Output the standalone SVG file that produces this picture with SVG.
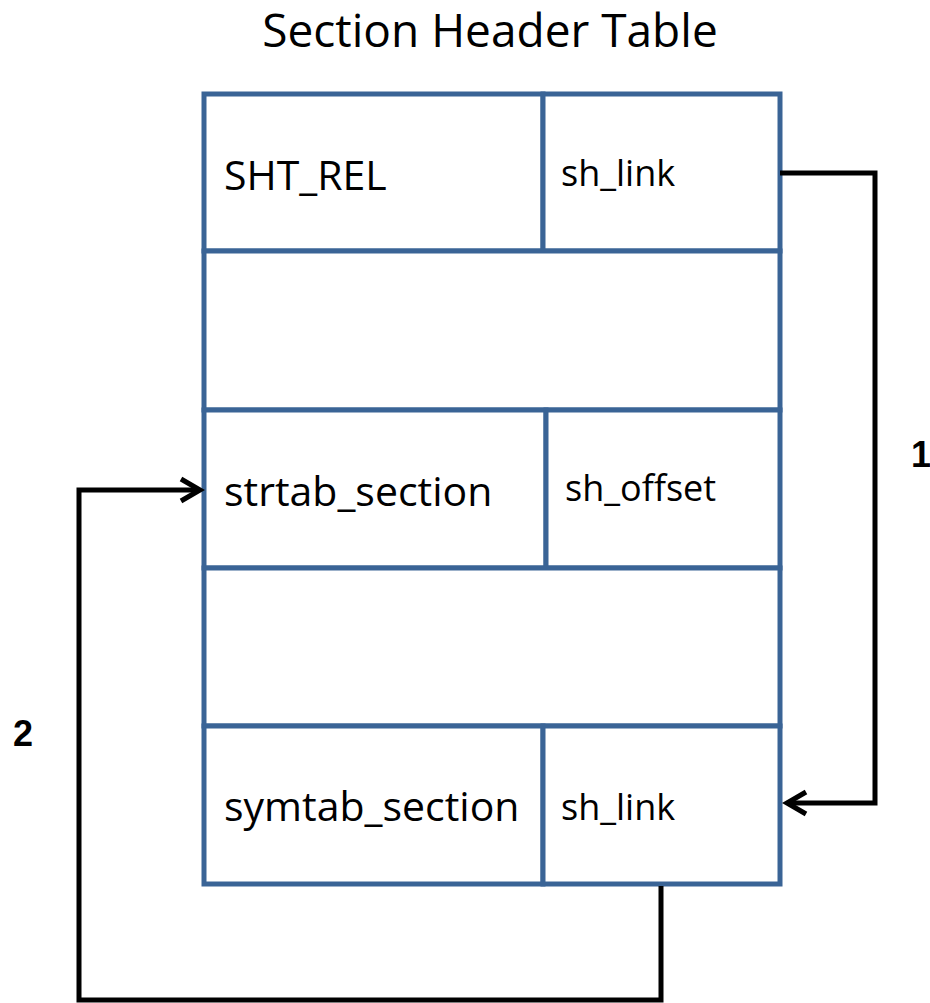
<svg xmlns="http://www.w3.org/2000/svg" width="930" height="1003" viewBox="0 0 930 1003">
<style>
.cell{fill:#fff;stroke:#3A6496;stroke-width:5}
.t{font-family:"Open Sans","Liberation Sans",sans-serif;fill:#000}
.big{font-size:41px}
.small{font-size:36px}
.conn{fill:none;stroke:#000;stroke-width:5;stroke-linejoin:miter}
.num{font-family:"Liberation Sans",sans-serif;font-weight:bold;font-size:36px}
</style>
<rect width="930" height="1003" fill="#fff"/>
<text class="t" x="490" y="47" font-size="46" text-anchor="middle">Section Header Table</text>
<g id="row-sht-rel">
<rect class="cell" x="204" y="94" width="339" height="157"/>
<rect class="cell" x="543" y="94" width="237" height="157"/>
<text class="t big" x="224" y="190">SHT_REL</text>
<text class="t small" x="561" y="186">sh_link</text>
</g>
<g id="row-empty-1">
<rect class="cell" x="204" y="251" width="576" height="159"/>
</g>
<g id="row-strtab">
<rect class="cell" x="204" y="410" width="342" height="158"/>
<rect class="cell" x="546" y="410" width="234" height="158"/>
<text class="t big" x="224" y="506">strtab_section</text>
<text class="t small" x="565" y="501">sh_offset</text>
</g>
<g id="row-empty-2">
<rect class="cell" x="204" y="568" width="576" height="158"/>
</g>
<g id="row-symtab">
<rect class="cell" x="204" y="726" width="339" height="158"/>
<rect class="cell" x="543" y="726" width="237" height="158"/>
<text class="t big" x="224" y="821">symtab_section</text>
<text class="t small" x="561" y="820">sh_link</text>
</g>
<g id="connectors">
<polyline class="conn" points="780,173 875,173 875,803 788,803"/>
<polyline class="conn" points="806,792 787,803 806,814"/>
<polyline class="conn" points="661,886 661,1000 79,1000 79,490 199,490"/>
<polyline class="conn" points="181,479 200,490 181,501"/>
<text class="num" x="911" y="467">1</text>
<text class="num" x="13" y="746">2</text>
</g>
</svg>
